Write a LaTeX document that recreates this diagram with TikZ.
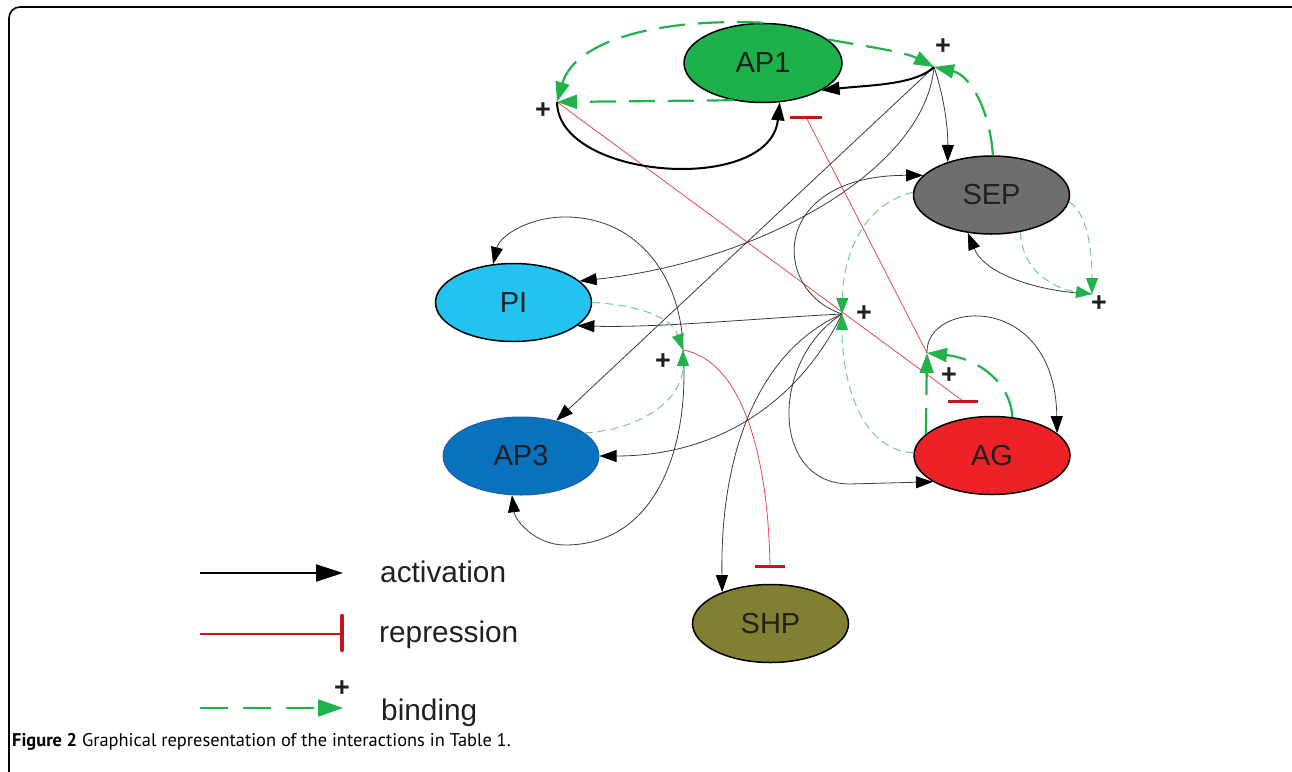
\documentclass[tikz,border=0pt]{standalone}
\usepackage{fontspec}
\setmainfont{Liberation Sans}
\newfontfamily\capfont{PT Sans}
\usetikzlibrary{shapes.geometric,arrows.meta,calc}
\definecolor{cAP1}{HTML}{1DB14C}
\definecolor{cSEP}{HTML}{6D6E6D}
\definecolor{cPI}{HTML}{22C3F0}
\definecolor{cAP3}{HTML}{0872BD}
\definecolor{cAP3b}{HTML}{1E5FA8}
\definecolor{cAG}{HTML}{EC2227}
\definecolor{cSHP}{HTML}{827E32}
\definecolor{txt}{HTML}{231F20}
\definecolor{thinblk}{HTML}{3C3C3C}
\definecolor{gT}{HTML}{22B24C}
\definecolor{gt}{HTML}{6FCF8A}
\definecolor{rthin}{HTML}{E8474D}
\definecolor{rbar}{HTML}{C4161C}
\begin{document}
\begin{tikzpicture}[x=1pt,y=-1pt,
  gene/.style={ellipse, draw=black, line width=1.5pt, inner sep=0pt,
    minimum width=156pt, minimum height=78pt, text=txt,
    font=\fontsize{29}{30}\selectfont},
  plus/.style={inner sep=0pt, text=txt, font=\bfseries\fontsize{27}{28}\selectfont},
  legtext/.style={anchor=base west, inner sep=0pt, text=txt, font=\fontsize{29.8}{31}\selectfont},
  act/.style={draw=thinblk, line width=0.8pt, -{Triangle[length=17pt,width=12pt,color=black]}},
  actT/.style={draw=black, line width=2pt, -{Triangle[length=18pt,width=13pt,color=black]}},
  bindT/.style={draw=gT, line width=2.2pt, dash pattern=on 26pt off 13pt,
    -{Triangle[length=20pt,width=14pt,color=gT,sep=0pt]}},
  bindt/.style={draw=gt, line width=1pt, dash pattern=on 8pt off 5pt,
    -{Triangle[length=16pt,width=12pt,color=gT]}},
  rep/.style={draw=rthin, line width=0.8pt},
  repbar/.style={draw=rbar, line width=3pt},
]
\useasboundingbox (0,0) rectangle (1292,771);
\fill[white] (0,0) rectangle (1292,771);
% frame
\draw[line width=1.6pt, rounded corners=11pt] (9,775) -- (9,7) -- (1296,7);

% nodes
\node[gene, fill=cAP1, minimum width=158pt, minimum height=79pt] (AP1) at (763,63) {AP1};
\node[gene, fill=cSEP] (SEP) at (991.5,195) {SEP};
\node[gene, fill=cPI] (PI) at (513.5,302.5) {PI};
\node[gene, fill=cAP3, draw=cAP3b, line width=1pt] (AP3) at (521,456) {AP3};
\node[gene, fill=cAG] (AG) at (992,455.5) {AG};
\node[gene, fill=cSHP] (SHP) at (770.5,623.5) {SHP};

% junctions
\coordinate (J1) at (934,67);
\coordinate (J2) at (557,102);
\coordinate (J3) at (842,314);
\coordinate (J4) at (683,350);
\coordinate (J5) at (1092,294);
\coordinate (J6) at (927,353);
\coordinate (B1) at (806,117);
\coordinate (B2) at (963,401);
\coordinate (B3) at (770,566);

\node[plus] (p1) at (943,47) {+};
\node[plus] (p2) at (543,111) {+};
\node[plus] (p3) at (864,314) {+};
\node[plus] (p4) at (663,362) {+};
\node[plus] (p5) at (1099,304) {+};
\node[plus] (p6) at (949,376) {+};

% repression
\draw[rep] (J2) -- (B2);
\draw[rep] (J6) -- (B1);
\draw[rep] (J4) .. controls (740,360) and (768,450) .. (B3);
\draw[repbar] ([xshift=-16pt]B1) -- ([xshift=16pt]B1);
\draw[repbar] ([xshift=-15pt]B2) -- ([xshift=15pt]B2);
\draw[repbar] ([xshift=-15pt]B3) -- ([xshift=15pt]B3);

% activation thin
\draw[act] (J1) .. controls (945,100) and (948,130) .. (SEP.143);
\draw[act] (J1) -- (AP3.45);
\draw[act] (J1) .. controls (925,170) and (760,262) .. (PI.18);
\draw[act] (J3) .. controls (770,290) and (770,175) .. (SEP.164);
\draw[act] (J5) .. controls (1040,292) and (985,275) .. (SEP.238);
\draw[act] (J4) .. controls (682,280) and (640,217) .. (565,217) .. controls (530,217) and (500,235) .. (PI.118);
\draw[act] (J4) .. controls (690,440) and (660,545) .. (565,545) .. controls (535,545) and (515,520) .. (AP3.257);
\draw[act] (J3) .. controls (760,318) and (660,328) .. (PI.-20);
\draw[act] (J3) .. controls (800,400) and (720,456) .. (AP3.east);
\draw[act] (J3) .. controls (760,350) and (720,450) .. (SHP.147);
\draw[act] (J3) .. controls (770,360) and (770,484) .. (850,484) -- (AG.204);
\draw[act] (J6) .. controls (925,300) and (1055,290) .. (AG.19);

% activation thick
\draw[actT] (J1) .. controls (915,85) and (870,85) .. (AP1.335);
\draw[actT] (J2) .. controls (558,180) and (770,195) .. (AP1.293);

% binding thin
\draw[bindt] (SEP.178) .. controls (860,205) and (843,260) .. (J3);
\draw[bindt] (AG.178) .. controls (860,450) and (842,380) .. (J3);
\draw[bindt] (SEP.-5) .. controls (1090,215) and (1092,260) .. (J5);
\draw[bindt] (SEP.-52) .. controls (1022,275) and (1060,290) .. (J5);
\draw[bindt] (PI.east) .. controls (640,305) and (672,318) .. (J4);
\draw[bindt] (AP3.20) .. controls (640,430) and (683,400) .. (J4);

% binding thick
\draw[bindT] (AP1.north) .. controls (660,18) and (575,40) .. (J2);
\draw[bindT] (AP1.20) .. controls (870,47) and (905,52) .. (J1);
\draw[bindT] (AP1.231) -- (J2);
\draw[bindT] (SEP.88) .. controls (990,110) and (970,75) .. (J1);
\draw[bindT] (AG.162) -- (J6);
\draw[bindT] (AG.62) .. controls (1010,380) and (975,358) .. (J6);

% legend
\coordinate (La1) at (200,573); \coordinate (La2) at (343,573);
\coordinate (Lr1) at (200,634); \coordinate (Lr2) at (342,634);
\coordinate (Lb1) at (200,708); \coordinate (Lb2) at (343,708);
\draw[draw=black, line width=2pt, -{Triangle[length=27pt,width=17pt,color=black]}] (La1) -- (La2);
\draw[draw=rbar, line width=2pt] (Lr1) -- (Lr2);
\draw[draw=rbar, line width=4.5pt, line cap=round] ([yshift=-16pt]Lr2) -- ([yshift=18pt]Lr2);
\draw[draw=gT, line width=2pt, dash pattern=on 28pt off 15pt, -{Triangle[length=25pt,width=17pt,color=gT]}] (Lb1) -- (Lb2);
\node[plus] (lp) at (342,689) {+};
\node[legtext] (lact) at (380,582) {activation};
\node[legtext] (lrep) at (379,642) {repression};
\node[legtext] (lbin) at (381,720) {binding};

% caption
\node[anchor=base west, inner sep=0pt, font=\capfont\fontsize{18.4}{20}\selectfont] (cap) at (12,746)
  {\textbf{Figure 2} Graphical representation of the interactions in Table 1.};
\end{tikzpicture}
\end{document}
